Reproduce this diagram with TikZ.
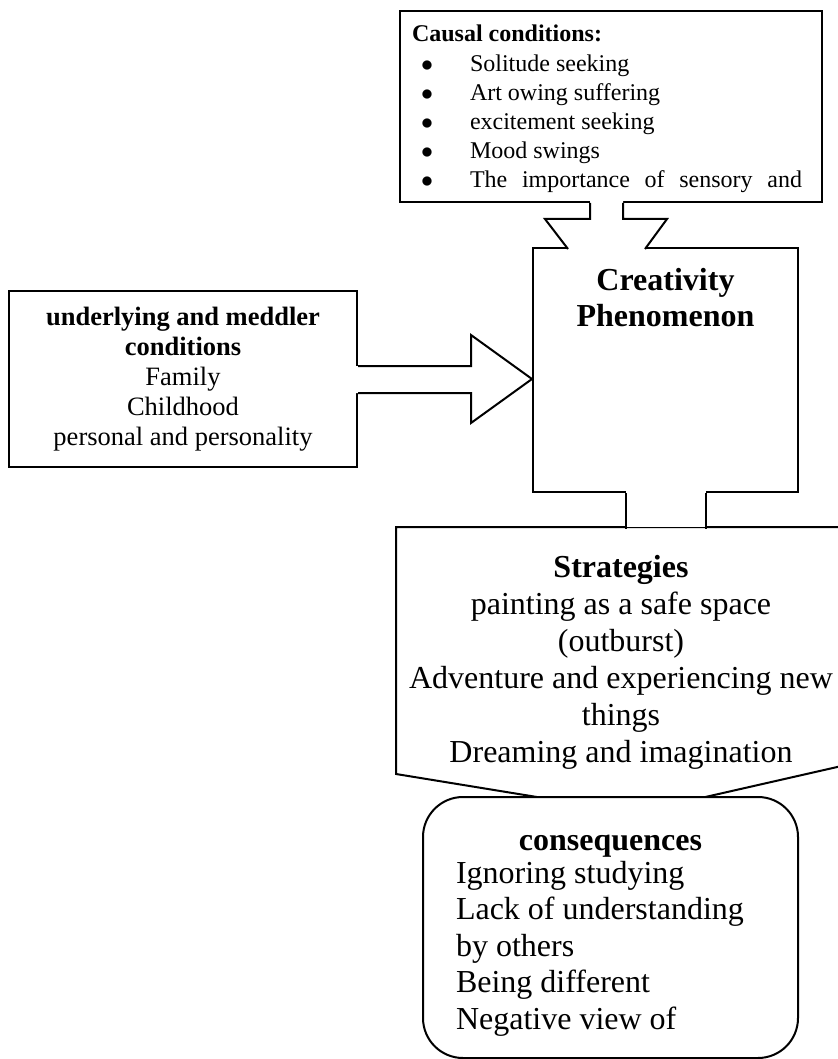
\documentclass[tikz,border=0pt]{standalone}
\usepackage{fontspec}
\setmainfont{Liberation Serif}
\usetikzlibrary{calc}
\usetikzlibrary{backgrounds}
\tikzset{
  box/.style={draw, fill=white, inner sep=0pt, line width=1pt},
  textonly/.style={inner sep=0pt}
}
\newcommand{\citem}[1]{\makebox[15pt]{$\bullet$}\hspace{14pt}#1}

\begin{document}
\begin{tikzpicture}[x=0.5pt, y=-0.5pt, line width=1pt]
  \useasboundingbox (0,0) rectangle (837,1059);

  \node[box, font=\fontsize{12}{14.6}\selectfont] (causal) at (611,106.5) {\parbox[c][95.5pt][t]{211pt}{\leftskip=6pt\rule{0pt}{15.5pt}\textbf{Causal conditions:}\\
    \citem{Solitude seeking}\\
    \citem{Art owing suffering}\\
    \citem{excitement seeking}\\
    \citem{Mood swings}\\
    \citem{\makebox[166pt][s]{The importance of sensory and}}}};
  \node[box, font=\bfseries\fontsize{16}{18}\selectfont] (phen) at (665.5,370) {\parbox[c][122pt][t]{132.5pt}{\centering\rule{0pt}{21pt}Creativity\\Phenomenon}};
  \node[box, align=center, minimum width=174pt, minimum height=88pt, font=\fontsize{13.25}{15}\selectfont] (under) at (183,379) {\textbf{underlying and meddler}\\\textbf{conditions}\\Family\\Childhood\\personal and personality};
  \node[textonly, font=\fontsize{16}{18.5}\selectfont] (strat) at (621,650.5) {\parbox[c][122.5pt][t]{224pt}{\centering\rule{0pt}{24.5pt}\textbf{Strategies}\\painting as a safe space\\(outburst)\\Adventure and experiencing new\\things\\Dreaming and imagination}};
  \node[box, rounded corners=20pt, font=\fontsize{16}{18.3}\selectfont] (cons) at (610.5,927.5) {\parbox[c][130.5pt][t]{187.5pt}{\centering\rule{0pt}{26.5pt}\textbf{consequences}\par\vspace{-1.8pt}\raggedright\leftskip=16.5pt Ignoring studying\\Lack of understanding\\by others\\Being different\\Negative view of}};

  \begin{scope}[on background layer]
    \draw[line width=1pt, fill=white] (strat.south west) -- (strat.north west) -- (strat.north east) -- ($(strat.south east)+(0,-9)$) -- ($(strat.south)+(14,39)$) -- cycle;
  \end{scope}

  \fill[white] ($(causal.south)+(-21,-2)$) -- ++(0,18) -- ++(-45,0) -- ++(24.5,32) -- ++(74,0) -- ++(23.5,-32) -- ++(-44,0) -- ++(0,-18) -- cycle;
  \draw ($(causal.south)+(-21,0)$) -- ++(0,16) -- ++(-45,0) -- ++(23,30)
        ($(causal.south)+(34,46)$) -- ++(22,-30) -- ++(-44,0) -- ++(0,-16);

  \fill[white] ($(under.east)+(-2,-13)$) -- ++(115,0) -- ++(0,-31) -- ++(61,44) -- ++(-61,44) -- ++(0,-30) -- ++(-115,0) -- cycle;
  \draw ($(under.east)+(0,-13)$) -- ++(113,0) -- ++(0,-31) -- ++(61,44) -- ++(-61,44) -- ++(0,-30) -- ++(-113,0);

  \fill[white] ($(phen.south)+(-39.5,-2)$) rectangle ($(phen.south)+(40.5,34)$);
  \draw ($(phen.south)+(-39.5,0)$) -- ++(0,36) ($(phen.south)+(40.5,0)$) -- ++(0,36);
\end{tikzpicture}
\end{document}
